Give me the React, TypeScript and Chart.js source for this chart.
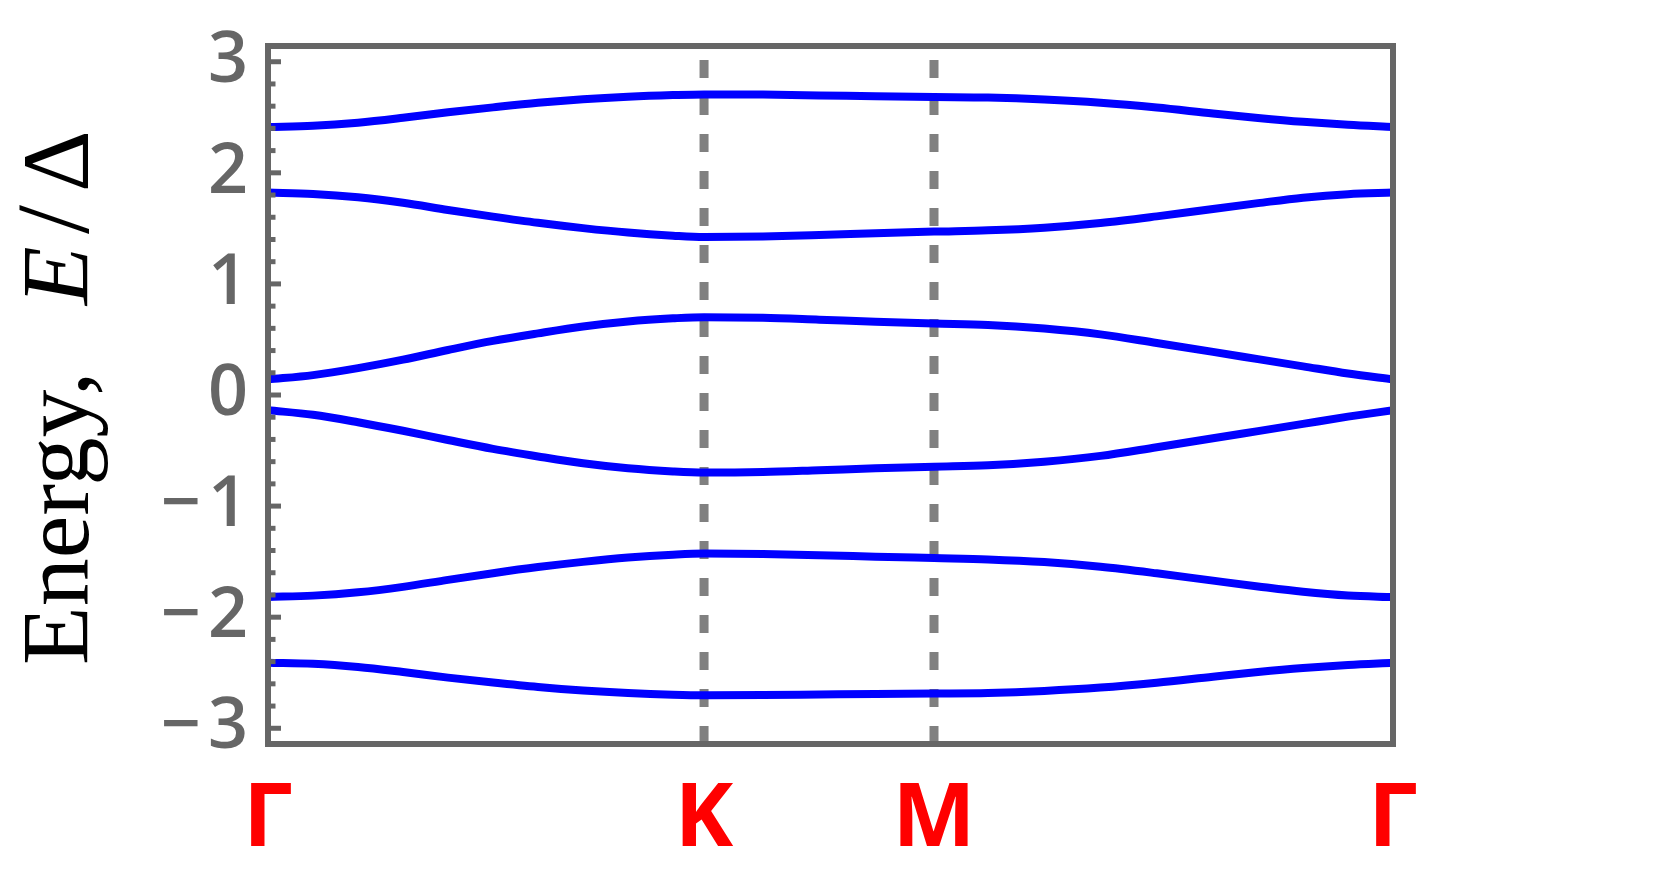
import React, { useEffect, useRef } from 'react';
import { Chart, registerables } from 'chart.js';

Chart.register(...registerables);

// Path coordinate along Γ → K → M → Γ (normalised path length)
const kPath = [0, 0.04, 0.08, 0.12, 0.16, 0.2, 0.24, 0.28, 0.32, 0.36, 0.3876, 0.44, 0.49, 0.54, 0.592, 0.64, 0.69, 0.74, 0.79, 0.84, 0.88, 0.92, 0.96, 1.0];

// Energy bands E/Δ
const band1 = [2.413, 2.423, 2.451, 2.495, 2.545, 2.589, 2.63, 2.662, 2.685, 2.7, 2.706, 2.704, 2.697, 2.689, 2.682, 2.677, 2.66, 2.631, 2.588, 2.534, 2.494, 2.459, 2.432, 2.413];
const band2 = [1.822, 1.81, 1.78, 1.73, 1.666, 1.606, 1.55, 1.502, 1.462, 1.434, 1.422, 1.427, 1.44, 1.456, 1.471, 1.482, 1.506, 1.548, 1.608, 1.675, 1.727, 1.776, 1.808, 1.822];
const band3 = [0.14, 0.179, 0.242, 0.318, 0.405, 0.487, 0.555, 0.617, 0.662, 0.69, 0.701, 0.695, 0.678, 0.66, 0.644, 0.631, 0.598, 0.546, 0.468, 0.388, 0.323, 0.258, 0.193, 0.14];
const band4 = [-0.137, -0.178, -0.245, -0.322, -0.405, -0.485, -0.553, -0.615, -0.66, -0.688, -0.698, -0.693, -0.677, -0.66, -0.645, -0.632, -0.6, -0.548, -0.47, -0.39, -0.325, -0.26, -0.195, -0.137];
const band5 = [-1.818, -1.806, -1.776, -1.727, -1.664, -1.604, -1.549, -1.502, -1.463, -1.437, -1.427, -1.431, -1.442, -1.455, -1.468, -1.48, -1.504, -1.546, -1.605, -1.671, -1.723, -1.771, -1.805, -1.819];
const band6 = [-2.41, -2.42, -2.449, -2.494, -2.544, -2.588, -2.628, -2.66, -2.683, -2.698, -2.703, -2.701, -2.696, -2.691, -2.687, -2.682, -2.664, -2.634, -2.59, -2.536, -2.494, -2.458, -2.43, -2.41];

const bands = [band1, band2, band3, band4, band5, band6];

// High-symmetry points
const kTicks = [0, 0.3876, 0.592, 1];
const kLabels = ['Γ', 'K', 'M', 'Γ'];

// Energy axis
const yMin = -3.1416;
const yMax = 3.1416;
const yTicks = [-3, -2, -1, 0, 1, 2, 3];
const yLabels = ['−\u200A3', '−\u200A2', '−\u200A1', '0', '1', '2', '3'];
const yMinorStep = 0.2;

const AXIS_GREY = '#666666';

const framePlugin = {
  id: 'frameAndTicks',
  afterDatasetsDraw(chart: any) {
    const { ctx, chartArea: a, scales } = chart;
    const ys = scales.y;
    ctx.save();
    ctx.strokeStyle = AXIS_GREY;
    ctx.lineCap = 'butt';
    ctx.lineWidth = 5;
    const start = yTicks[0];
    const end = yTicks[yTicks.length - 1];
    for (let v = start; v <= end + 1e-9; v += yMinorStep) {
      const isMajor = Math.abs(v - Math.round(v)) < 1e-6;
      const p = ys.getPixelForValue(v);
      ctx.beginPath();
      ctx.moveTo(a.left, p);
      ctx.lineTo(a.left + (isMajor ? 13 : 7.5), p);
      ctx.stroke();
    }
    ctx.lineWidth = 6;
    ctx.lineJoin = 'miter';
    ctx.strokeRect(a.left, a.top, a.right - a.left, a.bottom - a.top);
    ctx.restore();
  },
};

const yTitlePlugin = {
  id: 'yTitle',
  afterDraw(chart: any) {
    const { ctx } = chart;
    ctx.save();
    ctx.fillStyle = '#000000';
    ctx.textBaseline = 'alphabetic';
    ctx.textAlign = 'left';
    ctx.translate(88, 0);
    ctx.rotate(-Math.PI / 2);
    ctx.font = '96px "Liberation Serif"';
    ctx.fillText('Energy,', -665, 0);
    ctx.font = 'italic 96px "Liberation Serif"';
    ctx.fillText('E', -305, 0);
    ctx.font = '104px "Liberation Serif"';
    ctx.fillText('/', -234, 0);
    ctx.font = '96px "Liberation Serif"';
    ctx.fillText('Δ', -192, 0);
    ctx.restore();
  },
};

export default function App() {
  const ref = useRef<HTMLCanvasElement | null>(null);

  useEffect(() => {
    document.body.style.margin = '0';
    document.body.style.overflow = 'hidden';
    if (!ref.current) return;

    const bandSets = bands.map((b, i) => ({
      label: 'band ' + (i + 1),
      data: kPath.map((x, j) => ({ x, y: b[j] })),
      borderColor: '#0000ff',
      borderWidth: 8,
      pointRadius: 0,
      fill: false,
      cubicInterpolationMode: 'monotone' as const,
      order: 0,
    }));

    const dashSets = [kTicks[1], kTicks[2]].map((x, i) => ({
      label: 'sym ' + i,
      data: [
        { x, y: yMin },
        { x, y: yMax },
      ],
      borderColor: '#808080',
      borderWidth: 9,
      borderDash: [18, 19],
      pointRadius: 0,
      fill: false,
      order: 1,
    }));

    const chart = new Chart(ref.current, {
      type: 'line',
      data: { datasets: [...bandSets, ...dashSets] as any },
      options: {
        animation: false,
        responsive: false,
        layout: { padding: { left: 0, top: 46, right: 268, bottom: 0 } },
        plugins: { legend: { display: false }, tooltip: { enabled: false }, title: { display: false } },
        scales: {
          x: {
            type: 'linear',
            min: kTicks[0],
            max: kTicks[kTicks.length - 1],
            grid: { display: false, drawTicks: false },
            border: { display: false },
            afterBuildTicks: (s: any) => {
              s.ticks = kTicks.map((v) => ({ value: v }));
            },
            afterFit: (s: any) => {
              s.height = 129;
              s.paddingLeft = 0;
              s.paddingRight = 0;
              s.paddingTop = 0;
              s.paddingBottom = 0;
            },
            ticks: {
              autoSkip: false,
              maxRotation: 0,
              minRotation: 0,
              padding: 33,
              color: '#ff0000',
              font: { family: '"Open Sans"', size: 88, weight: 'bold', lineHeight: 1 },
              callback: (_v: any, i: number) => kLabels[i],
            },
          },
          y: {
            type: 'linear',
            min: yMin,
            max: yMax,
            grid: { display: false, drawTicks: false },
            border: { display: false },
            afterBuildTicks: (s: any) => {
              s.ticks = yTicks.map((v) => ({ value: v }));
            },
            afterFit: (s: any) => {
              s.width = 268;
              s.paddingLeft = 0;
              s.paddingRight = 0;
              s.paddingTop = 0;
              s.paddingBottom = 0;
            },
            ticks: {
              padding: 20,
              color: AXIS_GREY,
              font: { family: '"Open Sans"', size: 70, weight: '600' },
              callback: (_v: any, i: number) => yLabels[i],
            },
          },
        },
      },
      plugins: [framePlugin, yTitlePlugin],
    });
    return () => chart.destroy();
  }, []);

  return (
    <div style={{ width: 1661, height: 873, background: '#ffffff' }}>
      <canvas ref={ref} width={1661} height={873} style={{ display: 'block' }} />
    </div>
  );
}
